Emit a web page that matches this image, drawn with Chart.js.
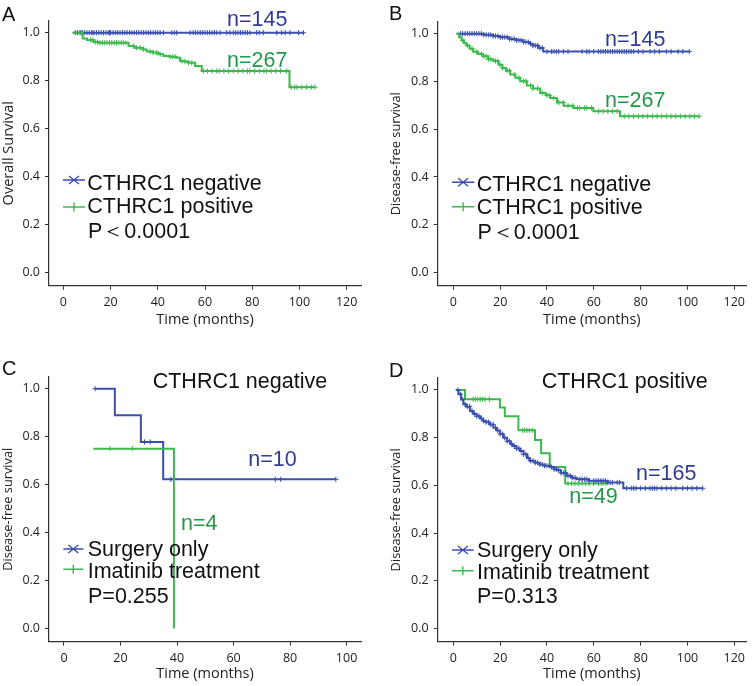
<!DOCTYPE html>
<html>
<head>
<meta charset="utf-8">
<script src="https://cdn.jsdelivr.net/npm/chart.js@4.4.0/dist/chart.umd.min.js"></script>
<style>
  body { margin: 0; background: #fff; width: 752px; height: 686px; position: relative; overflow: hidden; }
  canvas { position: absolute; }
</style>
</head>
<body>
<script>
/* CTHRC1 Kaplan-Meier panels A-D */

const BLUE = "#3b4fae", BLUE_TXT = "#2f3b94";
const GREEN = "#3cb94c", GREEN_TXT = "#23984a";
const INK = "#111";
const BIG = '21.5px "Liberation Sans", Arial, sans-serif';
const TAG = '20px "Liberation Sans", Arial, sans-serif';

const yTicks = [0, 0.2, 0.4, 0.6, 0.8, 1.0];
const xTicksWide = [0, 20, 40, 60, 80, 100, 120];
const xTicksC = [0, 20, 40, 60, 80, 100];

// A: overall survival, CTHRC1 negative / positive  [months, survival]
const aNegCurve = [[4, 1], [101.7, 1]];
const aNegCensor = [5, 6, 7, 7.5, 8, 9, 10, 11, 12, 12.5, 13, 14, 15, 16, 17, 18, 19, 19.5, 20, 21, 22, 23, 24, 25, 26, 27, 28, 29, 30, 31, 32, 33, 34, 35, 36, 37, 38, 39, 40, 41, 42.4, 45.9, 47, 48, 53.7, 55, 56, 57, 58, 59, 60, 61, 62, 63, 64, 65, 66.4, 69.2, 70.6, 72, 73, 74, 75, 76, 77, 78, 79, 81.9, 83, 84.7, 90.4, 92.5, 94, 96, 99.6, 101.7];
const aPosCurve = [[4, 1], [8.2, 0.976], [10, 0.97], [12.7, 0.961], [15, 0.958], [27.6, 0.944], [30, 0.937], [33.9, 0.93], [35.3, 0.922], [38, 0.917], [40.3, 0.91], [42.4, 0.903], [45, 0.9], [48, 0.896], [49.4, 0.882], [51, 0.88], [53, 0.875], [55.8, 0.861], [58.6, 0.84], [95.8, 0.773], [106.6, 0.773]];
const aPosCensor = [11.5, 12.5, 13.5, 14.5, 15.5, 16.5, 17.5, 18.5, 19.5, 20.5, 21.5, 22.5, 23.5, 24.5, 25.5, 26.5, 29.7, 31, 32.5, 33.9, 36.7, 38, 39.5, 41, 45.2, 46.3, 47.3, 50.2, 51.5, 53, 54.4, 59.3, 61, 63, 65, 66, 68, 70, 72, 74, 76, 78, 79, 81, 83, 85, 86, 88, 90, 92, 94.6, 96.5, 98, 99, 101, 103, 105, 106.6];

// B: disease-free survival, CTHRC1 negative / positive
const bNegCurve = [[1.4, 1], [13, 0.995], [17, 0.99], [20, 0.985], [24, 0.978], [27, 0.972], [30, 0.965], [32.7, 0.958], [34, 0.95], [36.3, 0.94], [38.4, 0.925], [100.8, 0.925]];
const bNegCensor = [3, 4, 5, 6, 7, 8, 9, 10, 11, 12, 13, 14, 15, 16, 17, 18, 19, 20, 21, 22, 23, 24, 25, 26, 27, 28, 29, 30, 31, 32, 33, 34, 35, 36, 37, 38, 40, 42, 43, 44, 45, 47, 49, 55, 57, 58, 60, 62, 63, 64, 65, 66, 67, 68, 69, 70, 71, 72, 73, 74, 75, 76, 77, 79, 81, 84, 86, 88, 91, 93, 96, 98, 100.8];
const bPosCurve = [[1.4, 1], [2.5, 0.985], [3.6, 0.972], [4.6, 0.96], [5.7, 0.95], [7, 0.937], [8.5, 0.924], [10.5, 0.915], [12.8, 0.905], [15, 0.893], [17.1, 0.885], [19.3, 0.87], [21, 0.856], [22.5, 0.845], [24.3, 0.829], [26.5, 0.815], [28.6, 0.801], [31.4, 0.783], [34, 0.77], [37.1, 0.752], [39.5, 0.742], [41.4, 0.731], [44.3, 0.712], [47.1, 0.698], [51.3, 0.689], [59.8, 0.675], [71.2, 0.654], [105, 0.654]];
const bPosCensor = [4, 6, 8, 10, 12, 13, 14, 15, 16, 18, 19, 20, 21, 23, 24, 26, 28, 30, 31, 33, 34, 36, 38, 40, 41, 43, 45, 47, 49, 51, 53, 54, 56, 57, 59, 62, 64, 66, 68, 70, 73, 75, 77, 79, 81, 83, 85, 87, 89, 91, 93, 95, 97, 99, 101, 103, 105];

// C: CTHRC1 negative, surgery only / imatinib
const cSurgCurve = [[11, 1], [18, 0.889], [27.2, 0.778], [35.1, 0.622], [96.2, 0.622]];
const cSurgCensor = [11, 28.5, 30.5, 37.8, 74.8, 76.7, 96.2];
const cImaCurve = [[10.4, 0.75], [38.9, 0]];
const cImaCensor = [16.3, 24.2];

// D: CTHRC1 positive, surgery only / imatinib
const dSurgCurve = [[1.2, 1], [2.2, 0.982], [3.3, 0.96], [4.3, 0.94], [5.5, 0.93], [7.1, 0.912], [8.5, 0.9], [10, 0.89], [11.5, 0.88], [12.8, 0.87], [14, 0.865], [15.5, 0.855], [17.1, 0.842], [18.5, 0.83], [20, 0.815], [21.4, 0.8], [23, 0.785], [24.5, 0.772], [25.6, 0.765], [27, 0.755], [28.5, 0.744], [30, 0.73], [31.5, 0.715], [32.7, 0.703], [35, 0.695], [37, 0.688], [39, 0.682], [41.3, 0.677], [43, 0.668], [44.1, 0.663], [46, 0.652], [48.4, 0.64], [50.5, 0.632], [52.7, 0.626], [58, 0.619], [66, 0.612], [72.6, 0.588], [106.5, 0.588]];
const dSurgCensor = [2, 3, 4, 5, 6, 7, 8, 9, 10, 11, 12, 13, 14, 15, 16, 17, 18, 19, 20, 21, 22, 23, 24, 25, 26, 27, 28, 29, 30, 31, 32, 33, 34, 35, 36, 37, 38, 39, 40, 41, 42, 43, 44, 45, 46, 47, 48, 49, 50, 51, 52, 54, 55, 56, 57, 58, 60, 61, 62, 63, 64, 65, 66, 67, 68, 70, 71, 74, 76, 77, 78, 80, 82, 84, 85, 86, 87, 89, 91, 93, 95, 98, 100, 102, 104, 106.5];
const dImaCurve = [[1.4, 1], [5, 0.961], [19.9, 0.926], [22, 0.89], [27.8, 0.831], [34.9, 0.79], [37.5, 0.735], [41.2, 0.677], [47.8, 0.608], [65.2, 0.608]];
const dImaCensor = [8.5, 9.5, 10.5, 11.5, 12.5, 13.5, 15.5, 29.6, 30.5, 31.5, 32.5, 33.9, 49, 50.5, 52, 53.5, 55, 56.5, 58, 60, 62, 63.5, 65.2];

Chart.defaults.font.family = '"Open Sans", sans-serif';
Chart.defaults.color = "#222";

function survAt(curve, t) {
  let s = curve[0][1];
  for (const [x, y] of curve) if (x <= t) s = y;
  return s;
}

function curveSet(curve, color) {
  return { data: curve.map(([x, y]) => ({ x, y })), borderColor: color, borderWidth: 2, stepped: true, pointRadius: 0, fill: false };
}

function censorSet(times, curve, color) {
  return { data: times.map((t) => ({ x: t, y: survAt(curve, t) })), showLine: false, pointStyle: "cross", pointRadius: 2.6, borderColor: color, borderWidth: 1 };
}

// legend keys, labels, n= and P texts (page coordinates)
const notes = {
  id: "notes",
  afterDatasetsDraw(chart, args, opts) {
    const ctx = chart.ctx, ox = opts.ox, oy = opts.oy;
    ctx.save();
    for (const k of opts.keys || []) {
      const y = k.y - oy, x0 = k.x0 - ox, x1 = k.x1 - ox, cx = (x0 + x1) / 2;
      ctx.strokeStyle = k.color;
      ctx.lineWidth = 1.4;
      ctx.beginPath();
      ctx.moveTo(x0, y); ctx.lineTo(x1, y);
      if (k.type === "star") {
        ctx.moveTo(cx - 5, y - 4); ctx.lineTo(cx + 5, y + 4);
        ctx.moveTo(cx - 5, y + 4); ctx.lineTo(cx + 5, y - 4);
      } else {
        ctx.moveTo(cx, y - 4.5); ctx.lineTo(cx, y + 4.5);
      }
      ctx.stroke();
    }
    ctx.textBaseline = "alphabetic";
    ctx.textAlign = "left";
    for (const t of opts.texts || []) {
      ctx.font = t.font || BIG;
      ctx.fillStyle = t.color || INK;
      ctx.fillText(t.text, t.x - ox, t.y - oy);
    }
    ctx.restore();
  },
};

function panel(p) {
  const [L, T, W, H] = p.box;
  const cv = document.createElement("canvas");
  cv.width = W; cv.height = H;
  cv.style.left = L + "px"; cv.style.top = T + "px";
  cv.style.width = W + "px"; cv.style.height = H + "px";
  document.body.appendChild(cv);

  const axisLook = {
    grid: { display: true, drawOnChartArea: false, drawTicks: true, tickLength: 4, color: "#333", lineWidth: 1 },
    border: { display: true, color: "#333", width: 1.2 },
  };

  new Chart(cv, {
    type: "line",
    data: { datasets: p.datasets },
    options: {
      responsive: false, animation: false, devicePixelRatio: 1,
      layout: { padding: { left: 0, top: p.area.top - T, right: L + W - p.area.right, bottom: 0 } },
      plugins: { legend: { display: false }, tooltip: { enabled: false }, notes: { ox: L, oy: T, keys: p.keys, texts: p.texts } },
      scales: {
        x: {
          type: "linear", min: p.xRange[0], max: p.xRange[1], ...axisLook,
          afterFit: (s) => { s.height = T + H - p.area.bottom; },
          afterBuildTicks: (s) => { s.ticks = p.xTicks.map((v) => ({ value: v })); },
          ticks: { padding: 5, font: { size: 12.5 }, color: "#222" },
          title: { display: true, text: "Time (months)", font: { size: 14.5 }, color: "#222", padding: { top: 0, bottom: p.xTitlePad } },
        },
        y: {
          type: "linear", min: -0.055, max: 1.05, ...axisLook,
          afterFit: (s) => { s.width = p.area.left - L; },
          afterBuildTicks: (s) => { s.ticks = yTicks.map((v) => ({ value: v })); },
          ticks: { padding: 5, font: { size: 12.5 }, color: "#222", callback: (v) => v.toFixed(1) },
          title: { display: true, text: p.yTitle, font: { size: p.yTitleSize }, color: "#222", padding: { top: p.yTitlePad, bottom: 0 } },
        },
      },
    },
    plugins: [notes],
  });
}

panel({
  box: [0, 0, 376, 330], area: { left: 49, top: 20.7, right: 361, bottom: 285.7 },
  xRange: [-6.1, 126.1], xTicks: xTicksWide, yTitle: "Overall Survival", yTitleSize: 14.5, yTitlePad: 0, xTitlePad: 1.3,
  datasets: [curveSet(aPosCurve, GREEN), censorSet(aPosCensor, aPosCurve, GREEN), curveSet(aNegCurve, BLUE), censorSet(aNegCensor, aNegCurve, BLUE)],
  keys: [{ type: "star", x0: 63, x1: 85, y: 180, color: BLUE }, { type: "plus", x0: 63, x1: 85, y: 207, color: GREEN }],
  texts: [
    { text: "A", x: 2, y: 20.5, font: TAG },
    { text: "n=145", x: 227, y: 26, color: BLUE_TXT },
    { text: "n=267", x: 227, y: 66.5, color: GREEN_TXT },
    { text: "CTHRC1 negative", x: 87.3, y: 190 },
    { text: "CTHRC1 positive", x: 87.3, y: 213.3 },
    { text: "P\uFF1C0.0001", x: 88, y: 238.3 },
  ],
});

panel({
  box: [376, 0, 376, 330], area: { left: 437.7, top: 21.7, right: 746, bottom: 285.7 },
  xRange: [-6.66, 125], xTicks: xTicksWide, yTitle: "Disease-free survival", yTitleSize: 12.8, yTitlePad: 13, xTitlePad: 1.3,
  datasets: [curveSet(bPosCurve, GREEN), censorSet(bPosCensor, bPosCurve, GREEN), curveSet(bNegCurve, BLUE), censorSet(bNegCensor, bNegCurve, BLUE)],
  keys: [{ type: "star", x0: 452, x1: 474.3, y: 182.3, color: BLUE }, { type: "plus", x0: 452, x1: 474.3, y: 206.7, color: GREEN }],
  texts: [
    { text: "B", x: 389, y: 20, font: TAG },
    { text: "n=145", x: 605, y: 45.5, color: BLUE_TXT },
    { text: "n=267", x: 605, y: 106.5, color: GREEN_TXT },
    { text: "CTHRC1 negative", x: 476.7, y: 190.7 },
    { text: "CTHRC1 positive", x: 476.7, y: 213.5 },
    { text: "P\uFF1C0.0001", x: 477.5, y: 238.7 },
  ],
});

panel({
  box: [0, 340, 376, 346], area: { left: 49, top: 376.7, right: 361, bottom: 641.7 },
  xRange: [-5.3, 105.1], xTicks: xTicksC, yTitle: "Disease-free survival", yTitleSize: 12.8, yTitlePad: 0.5, xTitlePad: 3.8,
  datasets: [curveSet(cImaCurve, GREEN), censorSet(cImaCensor, cImaCurve, GREEN), curveSet(cSurgCurve, BLUE), censorSet(cSurgCensor, cSurgCurve, BLUE)],
  keys: [{ type: "star", x0: 63.3, x1: 83.3, y: 549, color: BLUE }, { type: "plus", x0: 63.3, x1: 83.3, y: 569.3, color: GREEN }],
  texts: [
    { text: "C", x: 2, y: 375, font: TAG },
    { text: "CTHRC1 negative", x: 152.7, y: 388.3 },
    { text: "n=10", x: 248.3, y: 466, color: BLUE_TXT },
    { text: "n=4", x: 181, y: 530, color: GREEN_TXT },
    { text: "Surgery only", x: 87.7, y: 555.7 },
    { text: "Imatinib treatment", x: 87.7, y: 578.3 },
    { text: "P=0.255", x: 88, y: 602.7 },
  ],
});

panel({
  box: [376, 340, 376, 346], area: { left: 437.7, top: 378, right: 746, bottom: 641.7 },
  xRange: [-6.66, 125], xTicks: xTicksWide, yTitle: "Disease-free survival", yTitleSize: 12.8, yTitlePad: 13, xTitlePad: 3.8,
  datasets: [curveSet(dSurgCurve, BLUE), censorSet(dSurgCensor, dSurgCurve, BLUE), curveSet(dImaCurve, GREEN), censorSet(dImaCensor, dImaCurve, GREEN)],
  keys: [{ type: "star", x0: 452, x1: 473.7, y: 550, color: BLUE }, { type: "plus", x0: 452, x1: 473.7, y: 570.7, color: GREEN }],
  texts: [
    { text: "D", x: 389, y: 376.7, font: TAG },
    { text: "CTHRC1 positive", x: 541.7, y: 388.3 },
    { text: "n=165", x: 636, y: 480, color: BLUE_TXT },
    { text: "n=49", x: 569.3, y: 502.7, color: GREEN_TXT },
    { text: "Surgery only", x: 477, y: 556.7 },
    { text: "Imatinib treatment", x: 477, y: 579.3 },
    { text: "P=0.313", x: 477, y: 602.7 },
  ],
});
</script>
</body>
</html>
